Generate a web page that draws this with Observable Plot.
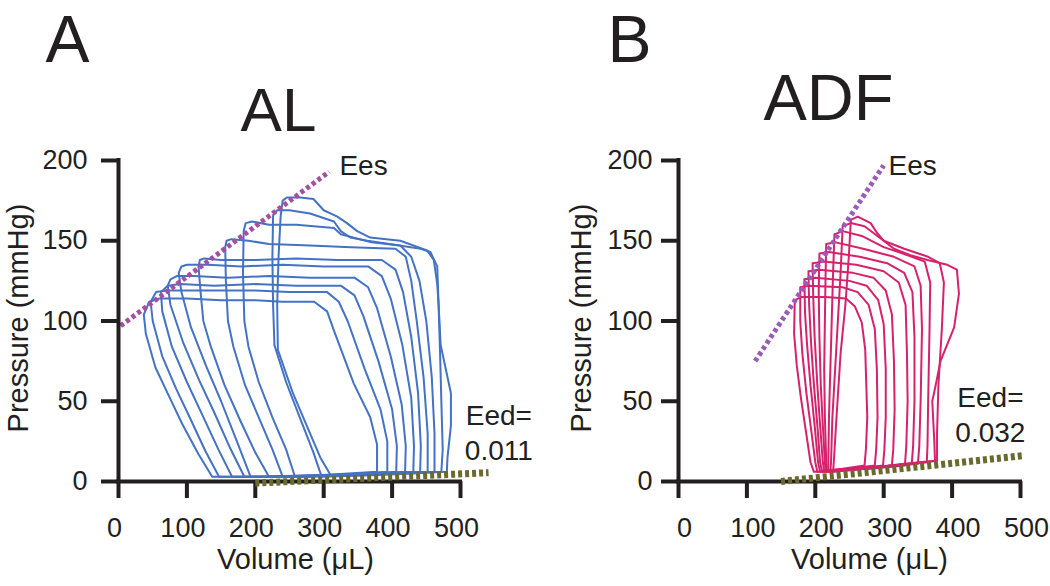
<!DOCTYPE html>
<html>
<head>
<meta charset="utf-8">
<script src="https://cdn.jsdelivr.net/npm/d3@7"></script>
<script src="https://cdn.jsdelivr.net/npm/@observablehq/plot@0.6"></script>
<style>
  html, body { margin: 0; padding: 0; background: #ffffff; }
  #wrap { position: relative; width: 1050px; height: 586px; display: flex; }
  #wrap svg { overflow: visible; }
</style>
</head>
<body>
<div id="wrap"></div>
<script>
// ---- axis ticks ----
const xTicks = [0, 100, 200, 300, 400, 500];
const yTicks = [0, 50, 100, 150, 200];

// ---- Panel A (AL): pressure-volume loops, [volume µL, pressure mmHg] ----
const al1 = [[378,6],[378,23],[368,40],[344,61],[315,94],[305,106],[286,112],[240,112],[200,113],[150,113],[100,114],[60,114],[45,112],[37,104],[40,92],[54,71],[74,53],[93,36],[117,17],[137,3],[200,3],[300,4],[378,6]];
const al2 = [[393,6],[393,25],[383,45],[360,70],[335,100],[322,112],[305,118],[250,118],[200,119],[150,119],[100,119],[70,119],[55,118],[47,112],[50,100],[64,78],[84,58],[104,40],[127,19],[147,3],[220,3],[320,4],[393,6]];
const al3 = [[406,6],[407,22],[400,45],[380,75],[358,103],[345,116],[325,122],[260,122],[200,123],[140,122],[90,123],[72,122],[62,118],[64,106],[78,84],[100,62],[122,42],[146,20],[166,3],[240,3],[340,4],[406,6]];
const al4 = [[419,6],[420,22],[414,48],[398,78],[378,108],[365,121],[345,127],[280,127],[220,128],[160,127],[110,128],[85,128],[76,126],[72,122],[76,110],[95,86],[118,63],[140,43],[163,21],[184,3],[260,3],[360,4],[419,6]];
const al5 = [[431,6],[432,22],[428,52],[415,85],[398,114],[385,128],[365,134],[300,134],[240,135],[180,134],[130,135],[100,135],[92,134],[88,130],[92,118],[106,96],[128,72],[150,50],[174,24],[193,3],[280,3],[370,5],[431,6]];
const al6 = [[441,6],[442,22],[438,55],[428,90],[416,118],[405,132],[385,138],[320,138],[260,139],[200,138],[150,138],[125,139],[119,138],[117,134],[120,118],[124,100],[135,84],[155,60],[178,38],[200,18],[220,3],[300,4],[380,5],[441,6]];
const al7 = [[452,6],[452,30],[446,65],[436,100],[428,125],[420,140],[405,145],[340,146],[280,147],[220,148],[190,150],[165,151],[158,150],[156,146],[157,125],[160,100],[168,84],[185,60],[205,40],[225,20],[240,3],[320,4],[400,5],[452,6]];
const al8 = [[462,6],[462,30],[458,65],[450,100],[440,125],[428,140],[412,147],[370,149],[325,154],[315,158],[260,160],[220,160],[195,162],[186,161],[183,156],[182,130],[184,100],[190,84],[205,62],[225,40],[245,20],[258,3],[340,4],[410,5],[462,6]];
const al9 = [[472,6],[474,20],[472,50],[470,82],[468,110],[466,134],[456,143],[442,145],[364,150],[339,152],[325,156],[315,162],[280,167],[250,169],[232,169],[226,166],[225,140],[226,110],[228,85],[245,62],[265,40],[285,18],[297,3],[380,4],[430,5],[472,6]];
const al10 = [[480,6],[481,15],[486,35],[486,55],[471,85],[468,110],[466,123],[461,138],[451,144],[412,150],[368,152],[349,156],[334,161],[320,165],[300,169],[285,176],[266,177],[246,177],[240,175],[237,165],[234,140],[232,110],[233,82],[255,55],[275,35],[295,15],[310,4],[400,5],[480,6]];
const alEes = [[3,97],[308,193]];
const alEed = [[200,-1],[541,5.5]];

// ---- Panel B (ADF) ----
const ad1 = [[170,113],[180,115],[215,115],[245,114],[258,109],[268,99],[273,82],[276,40],[274,20],[272,10],[240,8],[210,6],[198,6],[193,12],[186,32],[179,52],[173,72],[169,92],[170,113]];
const ad2 = [[178,121],[190,122],[240,121],[262,118],[278,110],[287,95],[290,70],[291,40],[289,20],[287,10],[250,8],[215,7],[203,6],[200,12],[194,32],[187,55],[181,80],[178,100],[178,121]];
const ad3 = [[184,126],[200,127],[250,125],[275,122],[292,113],[300,98],[303,70],[303,40],[301,20],[299,10],[260,8],[220,7],[207,6],[204,12],[199,35],[193,60],[188,85],[185,105],[184,126]];
const ad4 = [[190,131],[205,132],[255,130],[285,127],[303,119],[312,104],[315,75],[316,45],[314,20],[312,10],[270,8],[225,7],[210,6],[207,12],[203,35],[198,60],[194,85],[191,110],[190,131]];
const ad5 = [[196,136],[212,137],[260,135],[300,131],[322,124],[332,110],[334,80],[335,50],[333,22],[331,10],[280,8],[230,7],[213,6],[211,12],[207,35],[203,60],[199,90],[197,115],[196,136]];
const ad6 = [[206,142],[220,143],[265,140],[305,136],[330,130],[342,118],[345,90],[345,50],[343,22],[341,11],[290,9],[235,7],[215,6],[214,12],[211,35],[208,60],[206,90],[205,118],[206,142]];
const ad7 = [[216,148],[230,149],[270,145],[315,140],[345,134],[354,122],[356,95],[354,50],[352,22],[350,11],[300,9],[240,7],[217,6],[216,12],[214,40],[213,70],[214,100],[215,128],[216,148]];
const ad8 = [[228,154],[240,156],[268,153],[300,146],[335,141],[360,137],[368,124],[367,95],[365,50],[364,22],[363,12],[310,10],[250,7],[219,6],[219,12],[220,40],[222,70],[224,100],[226,130],[228,154]];
const ad9 = [[240,159],[252,161],[272,159],[300,150],[330,145],[365,140],[382,136],[388,124],[385,95],[380,60],[378,30],[378,13],[320,10],[260,8],[222,6],[223,12],[225,40],[229,70],[233,100],[237,130],[240,159]];
const ad10 = [[252,163],[262,165],[281,161],[290,155],[300,150],[315,145],[339,141],[364,138],[393,135],[407,132],[410,117],[403,96],[383,75],[376,60],[371,50],[374,25],[375,13],[330,11],[270,8],[226,6],[227,12],[231,40],[237,80],[244,110],[249,140],[252,163]];
const adEes = [[112,75],[300,197]];
const adEed = [[150,0],[502,16]];

// ---- labels ----
const panelLetters = ["A", "B"];
const panelTitles = ["AL", "ADF"];
const eedValues = ["0.011", "0.032"];
const xLabel = "Volume (μL)";
const yLabel = "Pressure (mmHg)";

const font = "'Liberation Sans', Arial, Helvetica, sans-serif";
const ink = "#231f20";

function panel(cfg) {
  const rows = cfg.loops.flatMap((loop, i) => loop.map(([v, p]) => ({loop: i, v, p})));
  const fx = d => d[0], fy = d => d[1];
  return Plot.plot({
    width: 525, height: 586,
    marginLeft: cfg.ml, marginRight: 525 - cfg.ml - 342, marginTop: 160, marginBottom: 105,
    x: {domain: [0, 500]}, y: {domain: [0, 200]},
    style: {fontFamily: font, color: ink, background: "transparent", overflow: "visible"},
    marks: [
      Plot.line(rows, {x: "v", y: "p", z: "loop", stroke: cfg.color, strokeWidth: 2, strokeLinejoin: "round"}),
      Plot.line(cfg.ees, {x: fx, y: fy, stroke: cfg.eesColor, strokeWidth: 5, strokeDasharray: "4,3", strokeLinecap: "butt"}),
      Plot.ruleX([0], {y1: 0, y2: 200, stroke: ink, strokeWidth: 4, strokeLinecap: "square"}),
      Plot.ruleY([0], {x1: 0, x2: 500, stroke: ink, strokeWidth: 4, strokeLinecap: "square"}),
      Plot.axisY({ticks: yTicks, tickSize: 17, tickPadding: cfg.yPad, strokeWidth: 4, fontSize: 27, label: null, stroke: ink}),
      Plot.axisX({ticks: xTicks, tickSize: 17, strokeWidth: 4, stroke: ink, tickFormat: () => "", label: null}),
      Plot.axisX({ticks: xTicks, tickSize: 0, tickPadding: 36, fontSize: 27, label: null, dx: cfg.xdx}),
      Plot.line(cfg.eed, {x: fx, y: fy, stroke: "#6b6a2e", strokeWidth: 7, strokeDasharray: "4,3", strokeLinecap: "butt"}),
      Plot.text([yLabel], {text: d => d, frameAnchor: "left", rotate: -90, dx: cfg.yLabX - cfg.ml, dy: -3, fontSize: 29, textAnchor: "middle", lineAnchor: "middle"}),
      Plot.text([xLabel], {text: d => d, frameAnchor: "bottom", dx: cfg.xLabDx, dy: 78, fontSize: 29, textAnchor: "middle", lineAnchor: "middle"}),
      Plot.text([cfg.letter], {text: d => d, frameAnchor: "top-left", dx: cfg.letterDx, dy: -98.5, fontSize: 66, textAnchor: "start", lineAnchor: "bottom"}),
      Plot.text([cfg.title], {text: d => d, frameAnchor: "top-left", dx: cfg.titleDx, dy: cfg.titleDy, fontSize: cfg.titleSize, textAnchor: "middle", lineAnchor: "bottom"}),
      Plot.text(["Ees"], {text: d => d, x: () => cfg.eesLab[0], y: () => cfg.eesLab[1], fontSize: 28, textAnchor: "start", lineAnchor: "bottom"}),
      Plot.text(["Eed="], {text: d => d, x: () => cfg.eedLab[0], y: () => cfg.eedLab[1], fontSize: 28, textAnchor: "middle", lineAnchor: "bottom"}),
      Plot.text([cfg.eedValue], {text: d => d, x: () => cfg.eedLab[0], y: () => cfg.eedLab[2], fontSize: 28, textAnchor: "middle", lineAnchor: "bottom"})
    ]
  });
}

const wrap = document.getElementById("wrap");
wrap.append(panel({
  loops: [al1, al2, al3, al4, al5, al6, al7, al8, al9, al10],
  color: "#4472c4", ees: alEes, eesColor: "#a54fa2", eed: alEed,
  ml: 118, yPad: 14, xdx: -4, yLabX: 18, xLabDx: 6,
  letter: panelLetters[0], letterDx: -73,
  title: panelTitles[0], titleDx: 160, titleDy: -30, titleSize: 62,
  eesLab: [323, 191], eedLab: [556, 35, 13.1], eedValue: eedValues[0]
}));
wrap.append(panel({
  loops: [ad1, ad2, ad3, ad4, ad5, ad6, ad7, ad8, ad9, ad10],
  color: "#d6226c", ees: adEes, eesColor: "#9b5bbb", eed: adEed,
  ml: 153, yPad: 9, xdx: 6, yLabX: 56, xLabDx: 20,
  letter: panelLetters[1], letterDx: -71,
  title: panelTitles[1], titleDx: 150, titleDy: -40.6, titleSize: 65,
  eesLab: [307, 191], eedLab: [456, 46.4, 24.6], eedValue: eedValues[1]
}));
</script>
</body>
</html>
